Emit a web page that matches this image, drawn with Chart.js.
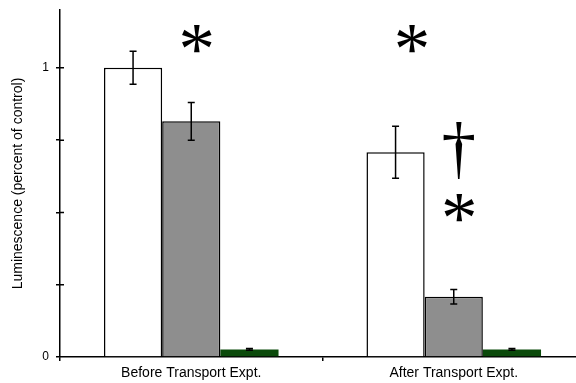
<!DOCTYPE html>
<html><head><meta charset="utf-8">
<script src="https://cdn.jsdelivr.net/npm/chart.js@4/dist/chart.umd.min.js"></script>
<style>html,body{margin:0;padding:0;background:#fff}#wrap{width:576px;height:383px;position:relative}</style>
</head><body><div id="wrap"><canvas id="c"></canvas></div>
<script>
// Groups on the x axis
const categories = ['Before Transport Expt.', 'After Transport Expt.'];
// Bar heights (fraction of control)
const openBars = [1.0, 0.708];
const grayBars = [0.815, 0.208];
const greenBars = [0.026, 0.026];
// Half-widths of the error bars
const openErr = [0.057, 0.09];
const grayErr = [0.065, 0.025];
const greenErr = [0.003, 0.003];
// Y axis tick positions and labels
const yTickValues = [0, 0.25, 0.5, 0.75, 1];
const yTickLabels = ['0', '', '', '', '1'];
const yMax = 1.2;
// Significance symbols: glyph, x in category units, y in data units
const markGlyphs = ['*', '*', '\u2020', '*'];
const markX = [0.02, 0.84, 1.02, 1.02];
const markY = [1.1, 1.1, 0.714, 0.517];
const markHeight = [27, 27, 56, 27];
// Plot frame: the x axis runs a little past the right edge of the canvas
const plotTop = 10;
const plotBottom = 357;
const xOverhang = 9;

const errorSets = [openErr, grayErr, greenErr];

const framePlugin = {
  id: 'frame',
  afterLayout(chart) {
    const xs = chart.scales.x, ys = chart.scales.y, ca = chart.chartArea;
    const right = chart.width + xOverhang;
    xs.right = right; xs.width = right - xs.left;
    ca.right = right; ca.width = right - ca.left;
    ys.top = plotTop; ys.bottom = plotBottom; ys.height = plotBottom - plotTop;
    ca.top = plotTop; ca.bottom = plotBottom; ca.height = plotBottom - plotTop;
    xs.top = plotBottom; xs.bottom = chart.height; xs.height = chart.height - plotBottom;
    xs.configure();
    ys.configure();
  }
};

// y tick marks cross the axis line: draw the inner half
const innerTickPlugin = {
  id: 'innerTicks',
  afterDraw(chart) {
    const ctx = chart.ctx, ys = chart.scales.y, x0 = chart.chartArea.left;
    ctx.save();
    ctx.strokeStyle = '#000';
    ctx.lineWidth = 1.5;
    ctx.beginPath();
    yTickValues.forEach(v => {
      if (v === 0) return;
      const py = ys.getPixelForValue(v);
      ctx.moveTo(x0, py); ctx.lineTo(x0 + 4, py);
    });
    ctx.stroke();
    ctx.restore();
  }
};

const errorBarPlugin = {
  id: 'errorBars',
  afterDatasetsDraw(chart) {
    const ctx = chart.ctx, y = chart.scales.y;
    ctx.save();
    ctx.strokeStyle = '#000';
    ctx.lineWidth = 1.5;
    chart.data.datasets.forEach((ds, di) => {
      const meta = chart.getDatasetMeta(di);
      meta.data.forEach((bar, i) => {
        const v = ds.data[i], e = errorSets[di][i];
        const top = y.getPixelForValue(v + e), bot = y.getPixelForValue(v - e);
        const cx = bar.x, cap = 3.5;
        ctx.beginPath();
        ctx.moveTo(cx, top); ctx.lineTo(cx, bot);
        ctx.moveTo(cx - cap, top); ctx.lineTo(cx + cap, top);
        ctx.moveTo(cx - cap, bot); ctx.lineTo(cx + cap, bot);
        ctx.stroke();
      });
    });
    ctx.restore();
  }
};

const symbolPlugin = {
  id: 'symbols',
  afterDraw(chart) {
    const ctx = chart.ctx, xs = chart.scales.x, ys = chart.scales.y;
    ctx.save();
    ctx.fillStyle = '#000';
    markGlyphs.forEach((g, i) => {
      ctx.font = '100px "Liberation Serif"';
      let m = ctx.measureText(g);
      const h0 = m.actualBoundingBoxAscent + m.actualBoundingBoxDescent;
      const size = 100 * markHeight[i] / h0;
      ctx.font = size + 'px "Liberation Serif"';
      m = ctx.measureText(g);
      ctx.textAlign = 'left';
      ctx.textBaseline = 'alphabetic';
      const px = xs.getPixelForValue(markX[i]);
      const py = ys.getPixelForValue(markY[i]);
      const w = m.actualBoundingBoxRight + m.actualBoundingBoxLeft;
      const dx = px - w / 2 + m.actualBoundingBoxLeft;
      const dy = py + (m.actualBoundingBoxAscent - m.actualBoundingBoxDescent) / 2;
      ctx.fillText(g, dx, dy);
    });
    ctx.restore();
  }
};

new Chart(document.getElementById('c'), {
  type: 'bar',
  data: {
    labels: categories,
    datasets: [
      { data: openBars, backgroundColor: '#ffffff', borderColor: '#000', borderWidth: 1.5 },
      { data: grayBars, backgroundColor: '#8e8e8e', borderColor: '#000', borderWidth: 1.5 },
      { data: greenBars, backgroundColor: '#0b4a0b', borderColor: '#0b4a0b', borderWidth: 0 }
    ]
  },
  options: {
    responsive: true,
    maintainAspectRatio: false,
    animation: false,
    events: [],
    layout: { padding: { left: 0, top: 10, right: 0, bottom: 0 } },
    datasets: { bar: { categoryPercentage: 0.665, barPercentage: 1.0 } },
    plugins: { legend: { display: false }, tooltip: { enabled: false } },
    scales: {
      x: {
        offset: true,
        grid: { offset: true, drawOnChartArea: false, drawTicks: true, tickLength: 4, color: '#000', lineWidth: 1.5 },
        border: { color: '#000', width: 1.5 },
        ticks: { color: '#000', font: { family: 'Liberation Sans', size: 14 }, padding: 4 },
        afterFit(s) { s.height = 26; }
      },
      y: {
        min: 0, max: yMax,
        afterBuildTicks(s) { s.ticks = yTickValues.map(v => ({ value: v })); },
        grid: { drawOnChartArea: false, drawTicks: true, tickLength: 4, color: '#000', lineWidth: 1.5 },
        border: { color: '#000', width: 1.5 },
        ticks: {
          color: '#000', font: { family: 'Liberation Sans', size: 12 }, padding: 7,
          callback(v, i) { return yTickLabels[yTickValues.indexOf(v)] ?? ''; }
        },
        title: { display: true, text: 'Luminescence (percent of control)', color: '#000',
                 font: { family: 'Liberation Sans', size: 14 }, padding: { top: 10, bottom: 0 } },
        afterFit(s) { s.width = 60; }
      }
    }
  },
  plugins: [framePlugin, errorBarPlugin, innerTickPlugin, symbolPlugin]
});
</script>
</body></html>
